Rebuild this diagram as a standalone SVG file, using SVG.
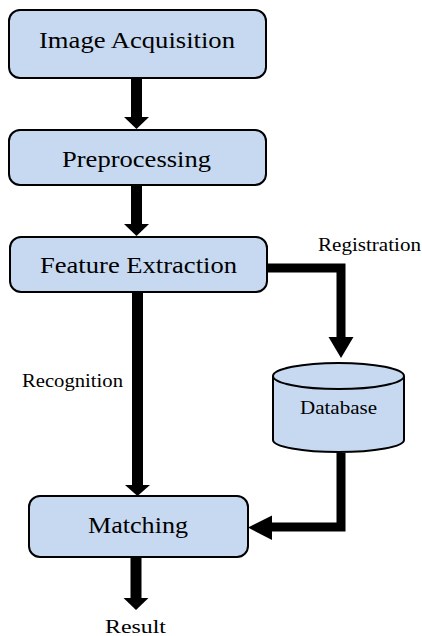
<svg xmlns="http://www.w3.org/2000/svg" width="422" height="636" viewBox="0 0 422 636">
<style>
.box{fill:#c6d9f0;stroke:#000;stroke-width:2}
.big{font-family:"Liberation Serif","DejaVu Serif",serif;font-size:23px;fill:#000}
.small{font-family:"Liberation Serif","DejaVu Serif",serif;font-size:19px;fill:#000}
.line{fill:none;stroke:#000;stroke-width:11}
.line2{fill:none;stroke:#000;stroke-width:9}
.head{fill:#000}
</style>
<rect width="422" height="636" fill="#fff"/>
<g id="connectors">
<line class="line" x1="136.5" y1="78" x2="136.5" y2="118"/>
<polygon class="head" points="124,117 149,117 136.5,129"/>
<line class="line" x1="136.5" y1="185" x2="136.5" y2="225"/>
<polygon class="head" points="124,224 149,224 136.5,236"/>
<line class="line" x1="137.5" y1="292" x2="137.5" y2="486"/>
<polygon class="head" points="125,485 150,485 137.5,496"/>
<line class="line" x1="136" y1="557" x2="136" y2="599"/>
<polygon class="head" points="123.5,598 148.5,598 136,610"/>
<polyline class="line2" points="266,268 341,268 341,338"/>
<polygon class="head" points="328.5,337 353.5,337 341,358"/>
<polyline class="line2" points="341,453 341,527 271,527"/>
<polygon class="head" points="272,515.5 272,540 248,527.5"/>
</g>
<g id="image-acquisition">
<rect class="box" x="9" y="10" width="257" height="68" rx="11"/>
<text class="big" x="39" y="48" textLength="196" lengthAdjust="spacingAndGlyphs">Image Acquisition</text>
</g>
<g id="preprocessing">
<rect class="box" x="9" y="130" width="257" height="55" rx="11"/>
<text class="big" x="62" y="167" textLength="149" lengthAdjust="spacingAndGlyphs">Preprocessing</text>
</g>
<g id="feature-extraction">
<rect class="box" x="10" y="237" width="257" height="55" rx="11"/>
<text class="big" x="40" y="273" textLength="197" lengthAdjust="spacingAndGlyphs">Feature Extraction</text>
</g>
<g id="database">
<path class="box" d="M273,376 A65,13 0 0 1 404,376 L404,440 A65,12 0 0 1 273,440 Z"/>
<path fill="none" stroke="#000" stroke-width="2" d="M273,376 A65,13 0 0 0 404,376"/>
<text class="small" x="300" y="414" textLength="77" lengthAdjust="spacingAndGlyphs">Database</text>
</g>
<g id="matching">
<rect class="box" x="29" y="496" width="219" height="61" rx="11"/>
<text class="big" x="88" y="533" textLength="100" lengthAdjust="spacingAndGlyphs">Matching</text>
</g>
<g id="labels">
<text class="small" x="318" y="251" textLength="103" lengthAdjust="spacingAndGlyphs">Registration</text>
<text class="small" x="22" y="387" textLength="101" lengthAdjust="spacingAndGlyphs">Recognition</text>
<text class="small" x="105" y="633" textLength="61" lengthAdjust="spacingAndGlyphs">Result</text>
</g>
</svg>
